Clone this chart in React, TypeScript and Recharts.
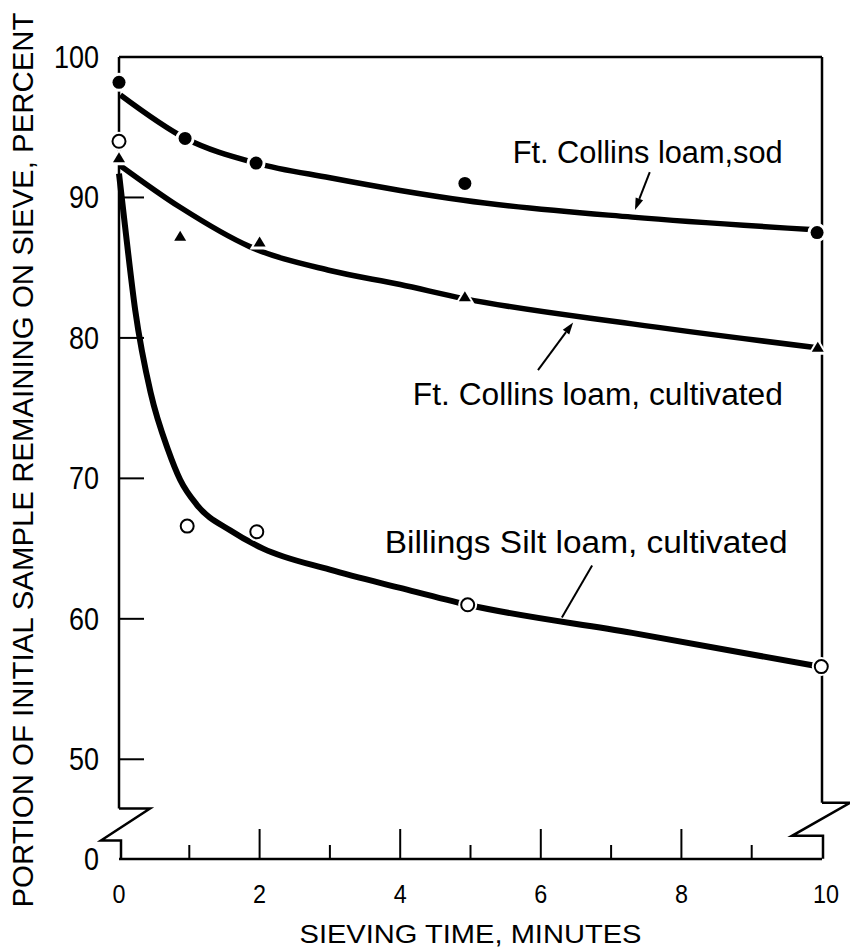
import { ComposedChart, Line, Scatter, XAxis, YAxis, ReferenceLine, ReferenceDot } from 'recharts'

const FONT = '"Liberation Sans", Arial, sans-serif'
const INK = '#000'

// measured points: sieving time (min) and percent left on sieve
const sodTimes = [0, 0.94, 1.95, 4.92, 9.93]
const sodPct = [98.2, 94.2, 92.45, 91.0, 87.5]
const cultTimes = [0, 0.87, 2.0, 4.92, 9.94]
const cultPct = [92.8, 87.2, 86.8, 82.9, 79.3]
const siltTimes = [0, 0.97, 1.96, 4.96, 9.99]
const siltPct = [94.0, 66.6, 66.2, 61.0, 56.6]

// the hand drawn curves
const sodCurveT = [0.02, 0.95, 1.95, 3, 4, 4.9, 7.3, 9.9]
const sodCurveV = [97.3, 94.2, 92.45, 91.4, 90.5, 89.8, 88.6, 87.7]
const cultCurveT = [0.01, 0.87, 1.86, 3, 4, 4.91, 7.3, 9.93]
const cultCurveV = [92.3, 89.3, 86.5, 84.8, 83.8, 82.8, 81.0, 79.3]
const siltCurveT = [0, 0.085, 0.23, 0.45, 0.7, 0.87, 1.11, 1.58, 2.05, 3, 4, 4.96, 7.3, 9.96]
const siltCurveV = [91.7, 88.0, 82.0, 76.1, 72.0, 69.9, 68.1, 66.3, 65.0, 63.5, 62.2, 61.0, 59.0, 56.6]

// axes (the y axis is broken: bottom of the frame is labelled 0)
const Y_FLOOR = 42.9
const Y_BREAK_L = 46.5
const Y_BREAK_R = 46.9
const yTicksLeft = [Y_FLOOR, 50, 60, 70, 80, 90, 100]
const yTicksRight = [50, 60, 70, 80, 90]
const xTicks = [0, 1, 2, 3, 4, 5, 6, 7, 8, 9, 10]
const xLabelled = [0, 2, 4, 6, 8, 10]

const seriesNames = ['Ft. Collins loam,sod', 'Ft. Collins loam, cultivated', 'Billings Silt loam, cultivated']

const pts = (ts: number[], vs: number[]) => ts.map((t, i) => ({ t, v: vs[i] }))

// where the curve names sit and their pointer lines
const notes = [
  { text: seriesNames[0], t: 5.6, v: 92.45, len: 270 },
  { text: seriesNames[1], t: 4.18, v: 75.2, len: 370 },
  { text: seriesNames[2], t: 3.78, v: 64.67, len: 403 },
]
const pointers = [
  { from: { x: 7.55, y: 91.8 }, to: { x: 7.34, y: 89.1 }, head: true },
  { from: { x: 5.96, y: 77.7 }, to: { x: 6.46, y: 81.1 }, head: true },
  { from: { x: 6.73, y: 63.8 }, to: { x: 6.3, y: 60.1 }, head: false },
]

const LeftTick = ({ x, y, payload }: any) => {
  const v = payload.value
  const inner = v > Y_FLOOR && v < 100
  const s = v === Y_FLOOR ? '0' : String(v)
  return (
    <g>
      {inner && <line x1={x} y1={y} x2={x + 25} y2={y} stroke={INK} strokeWidth={2} />}
      <text
        x={x - 20}
        y={y}
        dy={11}
        textAnchor="end"
        fontSize={31}
        fontFamily={FONT}
        fill={INK}
        textLength={s.length * 15}
        lengthAdjust="spacingAndGlyphs"
      >
        {s}
      </text>
    </g>
  )
}

const RightTick = ({ x, y }: any) => <line x1={x} y1={y} x2={x - 25} y2={y} stroke={INK} strokeWidth={2} />

const BottomTick = ({ x, y, payload }: any) => {
  const t = payload.value
  const major = xLabelled.includes(t)
  const edge = t === 0 || t === 10
  const s = String(t)
  return (
    <g>
      {!edge && <line x1={x} y1={y} x2={x} y2={y - (major ? 30 : 14)} stroke={INK} strokeWidth={2} />}
      {major && (
        <text
          x={x + (t === 10 ? 4 : 0)}
          y={y + 44}
          textAnchor="middle"
          fontSize={26}
          fontFamily={FONT}
          fill={INK}
          textLength={s.length * 13}
          lengthAdjust="spacingAndGlyphs"
        >
          {s}
        </text>
      )}
    </g>
  )
}

const FilledDot = ({ cx, cy }: any) => (
  <g>
    <circle cx={cx} cy={cy} r={9.5} fill="#fff" />
    <circle cx={cx} cy={cy} r={6.5} fill={INK} />
  </g>
)

const OpenDot = ({ cx, cy }: any) => (
  <g>
    <circle cx={cx} cy={cy} r={9.5} fill="#fff" />
    <circle cx={cx} cy={cy} r={6.5} fill="#fff" stroke={INK} strokeWidth={2} />
  </g>
)

const Tri = ({ cx, cy }: any) => (
  <g>
    <polygon points={`${cx},${cy - 10} ${cx - 10},${cy + 7} ${cx + 10},${cy + 7}`} fill="#fff" />
    <polygon points={`${cx},${cy - 6} ${cx - 6},${cy + 4} ${cx + 6},${cy + 4}`} fill={INK} />
  </g>
)

const BreakLeft = ({ cx, cy }: any) => (
  <path d={`M${cx},${cy} h31 L${cx - 18},${cy + 32} H${cx + 2} V${cy + 51}`} fill="none" stroke={INK} strokeWidth={2.5} />
)

const BreakRight = ({ cx, cy }: any) => (
  <path d={`M${cx},${cy} h28 L${cx - 30},${cy + 33} H${cx + 1} V${cy + 56}`} fill="none" stroke={INK} strokeWidth={2.5} />
)

const Pointer = ({ x1, y1, x2, y2, head }: any) => {
  const a = Math.atan2(y2 - y1, x2 - x1)
  const bx = x2 - 12 * Math.cos(a)
  const by = y2 - 12 * Math.sin(a)
  const px = 4 * Math.sin(a)
  const py = -4 * Math.cos(a)
  return (
    <g>
      <line x1={x1} y1={y1} x2={head ? bx : x2} y2={head ? by : y2} stroke={INK} strokeWidth={2} />
      {head && <polygon points={`${x2},${y2} ${bx + px},${by + py} ${bx - px},${by - py}`} fill={INK} />}
    </g>
  )
}

const YTitle = ({ viewBox }: any) => {
  const cy = viewBox.y + viewBox.height / 2 + 2
  return (
    <text
      x={33}
      y={cy}
      transform={`rotate(-90 33 ${cy})`}
      textAnchor="middle"
      fontSize={29}
      fontFamily={FONT}
      fill={INK}
      textLength={895}
      lengthAdjust="spacingAndGlyphs"
    >
      PORTION OF INITIAL SAMPLE REMAINING ON SIEVE, PERCENT
    </text>
  )
}

const XTitle = ({ viewBox }: any) => (
  <text
    x={viewBox.x + viewBox.width / 2}
    y={943}
    textAnchor="middle"
    fontSize={25}
    fontFamily={FONT}
    fill={INK}
    textLength={342}
    lengthAdjust="spacingAndGlyphs"
  >
    SIEVING TIME, MINUTES
  </text>
)

export default function App() {
  return (
    <div style={{ position: 'absolute', left: 0, top: 0, background: '#fff' }}>
      <ComposedChart width={850} height={949} margin={{ top: 57, right: 0, bottom: 0, left: 0 }}>
        <XAxis
          dataKey="t"
          type="number"
          domain={[0, 10]}
          ticks={xTicks}
          interval={0}
          height={90}
          tickSize={0}
          tickMargin={0}
          tickLine={false}
          axisLine={{ stroke: INK, strokeWidth: 2.5 }}
          tick={<BottomTick />}
          label={<XTitle />}
        />
        <YAxis
          yAxisId="l"
          dataKey="v"
          type="number"
          domain={[Y_FLOOR, 100]}
          ticks={yTicksLeft}
          interval={0}
          width={119}
          tickSize={0}
          tickMargin={0}
          tickLine={false}
          axisLine={false}
          tick={<LeftTick />}
          label={<YTitle />}
        />
        <YAxis
          yAxisId="r"
          orientation="right"
          type="number"
          domain={[Y_FLOOR, 100]}
          ticks={yTicksRight}
          interval={0}
          width={28}
          tickSize={0}
          tickMargin={0}
          tickLine={false}
          axisLine={false}
          tick={<RightTick />}
        />

        <ReferenceLine yAxisId="l" y={100} stroke={INK} strokeWidth={2.5} />
        <ReferenceLine yAxisId="l" segment={[{ x: 0, y: 100 }, { x: 0, y: Y_BREAK_L }]} stroke={INK} strokeWidth={2.5} />
        <ReferenceLine yAxisId="l" segment={[{ x: 10, y: 100 }, { x: 10, y: Y_BREAK_R }]} stroke={INK} strokeWidth={2.5} />
        <ReferenceDot yAxisId="l" x={0} y={Y_BREAK_L} ifOverflow="visible" shape={<BreakLeft />} />
        <ReferenceDot yAxisId="l" x={10} y={Y_BREAK_R} ifOverflow="visible" shape={<BreakRight />} />

        <Line yAxisId="l" data={pts(sodCurveT, sodCurveV)} dataKey="v" type="monotone" stroke={INK} strokeWidth={5.5} dot={false} activeDot={false} isAnimationActive={false} />
        <Line yAxisId="l" data={pts(cultCurveT, cultCurveV)} dataKey="v" type="monotone" stroke={INK} strokeWidth={5.5} dot={false} activeDot={false} isAnimationActive={false} />
        <Line yAxisId="l" data={pts(siltCurveT, siltCurveV)} dataKey="v" type="monotone" stroke={INK} strokeWidth={6} dot={false} activeDot={false} isAnimationActive={false} />

        <Scatter yAxisId="l" data={pts(sodTimes, sodPct)} dataKey="v" shape={<FilledDot />} isAnimationActive={false} />
        <Scatter yAxisId="l" data={pts(cultTimes, cultPct)} dataKey="v" shape={<Tri />} isAnimationActive={false} />
        <Scatter yAxisId="l" data={pts(siltTimes, siltPct)} dataKey="v" shape={<OpenDot />} isAnimationActive={false} />

        {pointers.map((p, i) => (
          <ReferenceLine key={'p' + i} yAxisId="l" segment={[p.from, p.to]} ifOverflow="visible" shape={<Pointer head={p.head} />} />
        ))}
        {notes.map((n, i) => (
          <ReferenceDot
            key={'n' + i}
            yAxisId="l"
            x={n.t}
            y={n.v}
            ifOverflow="visible"
            shape={({ cx, cy }: any) => (
              <text x={cx} y={cy} fontSize={31} fontFamily={FONT} fill={INK} textLength={n.len} lengthAdjust="spacingAndGlyphs">
                {n.text}
              </text>
            )}
          />
        ))}
      </ComposedChart>
    </div>
  )
}
